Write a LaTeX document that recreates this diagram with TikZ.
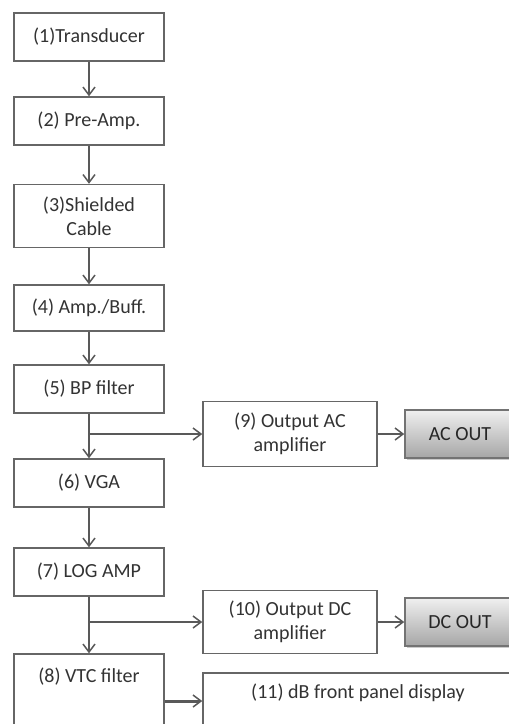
\documentclass[tikz,border=0pt]{standalone}
\usepackage{fontspec}
\setmainfont{Carlito}
\usetikzlibrary{arrows.meta,shadows}

\begin{document}
\begin{tikzpicture}[x=1pt,y=-1pt,line width=1.5pt,>={Straight Barb[length=8pt,width=12pt]},
  box/.style={draw=black!60,fill=white,text=black!80,minimum width=150pt,minimum height=48pt,
    align=center,inner sep=4pt,font=\fontsize{20}{24}\selectfont},
  outbox/.style={box,minimum width=110pt,top color=black!6,bottom color=black!35,draw=black!55,
    text=black!85,drop shadow={shadow xshift=1.5pt,shadow yshift=-1.5pt,fill=black!40,opacity=.5}},
  link/.style={->,draw=black!65}]
  \useasboundingbox (0,0) rectangle (509,724);
  \fill[white] (0,0) rectangle (509,724);
  \clip (0,0) rectangle (509,724);
  % main chain
  \node[box] (b1) at (89,37) {(1)Transducer};
  \node[box] (b2) at (89,121) {(2) Pre-Amp.};
  \node[box,minimum height=63pt] (b3) at (89,216) {(3)Shielded\\Cable};
  \node[box,minimum height=46pt] (b4) at (89,308) {(4) Amp./Buff.};
  \node[box] (b5) at (89,389) {(5) BP filter};
  \node[box] (b6) at (89,483) {(6) VGA};
  \node[box] (b7) at (89,572) {(7) LOG AMP};
  \node[box,minimum height=0pt,text height=24pt,text depth=62pt] (b8) at (89,701) {(8) VTC filter};
  % outputs
  \node[box,minimum width=174pt,minimum height=65pt] (b9) at (290,434) {(9) Output AC\\amplifier};
  \node[outbox] (acout) at (460,434) {AC OUT};
  \node[box,minimum width=174pt,minimum height=63pt] (b10) at (290,622) {(10) Output DC\\amplifier};
  \node[outbox] (dcout) at (460,622) {DC OUT};
  \node[box,minimum width=310pt,minimum height=0pt,text height=21pt,text depth=27pt] (b11) at (358,701) {(11) dB front panel display};
  % connections
  \draw[link] (b1) -- (b2);
  \draw[link] (b2) -- (b3);
  \draw[link] (b3) -- (b4);
  \draw[link] (b4) -- (b5);
  \draw[link] (b5) -- (b6);
  \draw[link] (b6) -- (b7);
  \draw[link] (b7) -- (b8);
  \draw[link] (b5.south |- b9.west) -- (b9.west);
  \draw[link] (b9) -- (acout);
  \draw[link] (b7.south |- b10.west) -- (b10.west);
  \draw[link] (b10) -- (dcout);
  \draw[link,line width=3pt,-{Straight Barb[length=8pt,width=12pt,line width=1.5pt]}] (b8.east) -- (b11.west);
\end{tikzpicture}
\end{document}
